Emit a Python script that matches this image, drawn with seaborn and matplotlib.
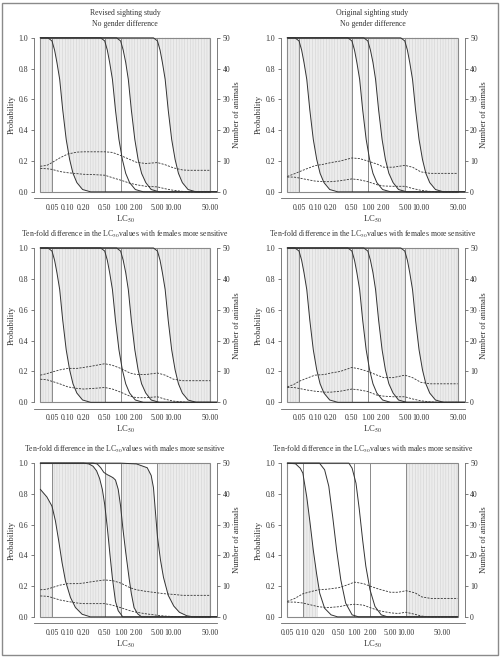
import numpy as np
import matplotlib
matplotlib.use('Agg')
import matplotlib.pyplot as plt
import seaborn as sns
from matplotlib.patches import Polygon, Rectangle

# ---------------- data ----------------
top_titles = ["Revised sighting study", "Original sighting study"]
sub_titles = ["No gender difference", "No gender difference",
              "Ten-fold difference in the LC$_{50}$values with females more sensitive",
              "Ten-fold difference in the LC$_{50}$values with females more sensitive",
              "Ten-fold difference in the LC$_{50}$values with males more sensitive",
              "Ten-fold difference in the LC$_{50}$values with males more sensitive"]

x_range = [(0.03, 50)] * 5 + [(0.05, 100)]
cut_points = [[0.05, 0.5, 1, 5]] * 5 + [[0.1, 1, 2, 10]]

tick_vals = [0.05, 0.1, 0.2, 0.5, 1, 2, 5, 10, 20, 50]
tick_labs = ["0.05", "0.10", "0.20", "0.50", "1.00", "2.00", "5.00", "10.00", "", "50.00"]

c1_x = [0.03, 0.042, 0.05, 0.056, 0.062, 0.07, 0.08, 0.093, 0.108, 0.125, 0.148, 0.19, 0.27, 100]
c1_y = [1, 1, 0.98, 0.92, 0.84, 0.73, 0.53, 0.34, 0.21, 0.12, 0.06, 0.015, 0, 0]
c2_x = [0.03, 0.42, 0.5, 0.56, 0.62, 0.7, 0.8, 0.93, 1.08, 1.25, 1.48, 1.9, 2.7, 100]
c2_y = [1, 1, 0.98, 0.92, 0.84, 0.73, 0.53, 0.34, 0.21, 0.12, 0.06, 0.015, 0, 0]
c3_x = [0.03, 0.84, 1.0, 1.12, 1.25, 1.4, 1.6, 1.86, 2.15, 2.5, 3.0, 3.8, 5.4, 100]
c3_y = [1, 1, 0.98, 0.92, 0.84, 0.73, 0.53, 0.34, 0.21, 0.12, 0.06, 0.015, 0, 0]
c4_x = [0.03, 4.2, 5.0, 5.6, 6.2, 7.0, 8.0, 9.3, 10.8, 12.5, 14.8, 19, 27, 100]
c4_y = [1, 1, 0.98, 0.92, 0.84, 0.73, 0.53, 0.34, 0.21, 0.12, 0.06, 0.015, 0, 0]

# panel 5 (males more sensitive, revised)
m1_x = [0.03, 0.04, 0.05, 0.058, 0.067, 0.0775, 0.09, 0.112, 0.139, 0.186, 0.267, 100]
m1_y = [0.83, 0.78, 0.72, 0.625, 0.495, 0.354, 0.234, 0.126, 0.061, 0.017, 0, 0]
m2_x = [0.03, 0.2, 0.25, 0.3, 0.35, 0.4, 0.45, 0.5, 0.56, 0.63, 0.7, 0.8, 0.9, 1.1, 100]
m2_y = [1, 1, 0.995, 0.98, 0.95, 0.9, 0.83, 0.73, 0.58, 0.4, 0.25, 0.1, 0.04, 0, 0]
m3_x = [0.03, 0.3, 0.36, 0.42, 0.48, 0.56, 0.64, 0.72, 0.8, 0.9, 1.0, 1.1, 1.25, 1.45,
        1.6, 1.8, 2.1, 2.5, 100]
m3_y = [1, 1, 0.995, 0.97, 0.94, 0.925, 0.915, 0.905, 0.89, 0.83, 0.72, 0.58, 0.42, 0.25,
        0.15, 0.06, 0.02, 0, 0]
m4_x = [0.03, 1.0, 2.0, 3.2, 3.8, 4.2, 5.0, 5.7, 6.5, 8.0, 10.2, 13, 18, 24, 100]
m4_y = [1, 1, 0.995, 0.97, 0.92, 0.84, 0.52, 0.37, 0.257, 0.14, 0.07, 0.03, 0.007, 0, 0]

# panel 6 (males more sensitive, original)
o1_x = [0.05, 0.072, 0.089, 0.1, 0.119, 0.138, 0.159, 0.184, 0.212, 0.264, 0.352, 0.47, 100]
o1_y = [1, 0.996, 0.967, 0.935, 0.78, 0.61, 0.436, 0.284, 0.154, 0.056, 0.013, 0, 0]
o2_x = [0.05, 0.21, 0.264, 0.318, 0.379, 0.451, 0.544, 0.676, 0.9, 1.2, 100]
o2_y = [1, 1, 0.957, 0.85, 0.65, 0.436, 0.24, 0.089, 0.013, 0, 0]
o3_x = [0.05, 0.78, 0.9, 1.07, 1.24, 1.44, 1.66, 2.0, 2.5, 3.3, 4.4, 100]
o3_y = [1, 1, 0.967, 0.87, 0.7, 0.5, 0.33, 0.176, 0.067, 0.013, 0, 0]

# number of animals (dashed), right axis
n_x = [0.03, 0.04, 0.05, 0.07, 0.1, 0.15, 0.2, 0.3, 0.5, 0.7, 1.0, 1.5, 2, 3, 5, 7, 10, 15, 20, 50]
n6_x = [0.05, 0.07, 0.1, 0.15, 0.2, 0.3, 0.5, 0.7, 1, 1.5, 2, 3, 5, 7, 10, 15, 20, 30, 50, 100]
p1_hi = [8.3, 8.6, 9.5, 11, 12.3, 12.9, 13, 13, 13, 12.8, 11.8, 10.5, 9.6, 9.2, 9.5, 8.8, 7.8, 7.1, 7, 7]
p1_lo = [7.6, 7.5, 7.3, 6.6, 6.2, 5.9, 5.7, 5.6, 5.4, 4.6, 3.8, 2.8, 2.3, 1.8, 1.6, 1.0, 0.5, 0.15, 0, 0]
p2_hi = [5, 5.8, 6.5, 7.5, 8.5, 9, 9.5, 10, 11, 10.8, 10, 9, 8, 8, 8.6, 8, 6.5, 6, 6, 6]
p2_lo = [4.8, 4.8, 4.5, 4, 3.5, 3.3, 3.3, 3.6, 4.2, 3.9, 3.3, 2.3, 1.9, 1.8, 1.8, 1.1, 0.5, 0.15, 0, 0]
p3_hi = [8.8, 9.3, 9.8, 10.5, 11, 11, 11.3, 11.8, 12.5, 12, 11, 9.5, 9, 9, 9.5, 8.8, 7.5, 7, 7, 7]
p3_lo = [7.5, 7.3, 6.8, 6, 5, 4.5, 4.3, 4.5, 4.8, 4.3, 3.3, 2, 1.5, 1.5, 1.8, 1, 0.4, 0.1, 0, 0]
p4_hi = [5, 5.8, 6.8, 7.8, 8.8, 9, 9.5, 10, 11.3, 10.8, 10, 8.8, 8, 8, 8.8, 8, 6.5, 6, 6, 6]
p4_lo = [4.8, 4.8, 4.5, 4, 3.6, 3.3, 3.3, 3.6, 4.3, 4, 3.5, 2.3, 2, 1.8, 1.8, 1.1, 0.5, 0.15, 0, 0]
p5_hi = [8.8, 9, 9.5, 10.3, 10.8, 10.8, 11, 11.5, 12, 11.8, 11, 9.5, 8.8, 8.3, 7.8, 7.5, 7.3, 7, 7, 7]
p5_lo = [6.8, 6.7, 6.3, 5.5, 5, 4.5, 4.3, 4.3, 4.3, 3.8, 3, 2, 1.5, 1, 0.5, 0.25, 0.1, 0, 0, 0]
p6_hi = [5, 6, 7.5, 8.3, 8.8, 9, 9.5, 10.3, 11.3, 10.8, 10, 9, 8, 8, 8.5, 7.8, 6.5, 6, 6, 6]
p6_lo = [4.8, 4.8, 4.5, 3.8, 3.3, 3, 3.3, 3.8, 4.1, 3.8, 3, 2, 1.3, 1.1, 1.5, 0.8, 0.25, 0, 0, 0]

# ---------------- style ----------------
sns.set_theme(style='white')
plt.rcParams['font.family'] = ['Liberation Serif', 'DejaVu Serif']
plt.rcParams['mathtext.fontset'] = 'stix'
plt.rcParams['hatch.linewidth'] = 0.4
FS = 5.6
INK = '#333333'
AXC = '#666666'

fig = plt.figure(figsize=(5.0, 6.57), dpi=100)
W, H = 500, 657


def add_axes(l, r, t, b):
    return fig.add_axes([l / W, 1 - b / H, (r - l) / W, (b - t) / H])


cols = [(33.5, 217), (280.5, 464.5)]
rows = [(31.7, 198), (241.8, 408.5), (457, 623)]

curves = [
    [(c1_x, c1_y), (c2_x, c2_y), (c3_x, c3_y), (c4_x, c4_y)],
] * 4 + [
    [(m1_x, m1_y), (m2_x, m2_y), (m3_x, m3_y), (m4_x, m4_y)],
    [(o1_x, o1_y), (o2_x, o2_y), (o3_x, o3_y)],
]
animals = [(n_x, p1_hi, p1_lo), (n_x, p2_hi, p2_lo), (n_x, p3_hi, p3_lo),
           (n_x, p4_hi, p4_lo), (n_x, p5_hi, p5_lo), (n6_x, p6_hi, p6_lo)]


def shade(ax, lower, upper, x0, x1):
    lx, ly = lower
    ux, uy = upper
    pts = list(zip(lx, ly)) + list(zip(ux[::-1], uy[::-1]))
    poly = Polygon(pts, closed=True, facecolor='#ececec', edgecolor='#d2d2d2',
                   hatch='||||||', lw=0, zorder=1)
    ax.add_patch(poly)
    poly.set_clip_path(Rectangle((x0, -0.1), x1 - x0, 1.2, transform=ax.transData))


for i in range(6):
    r, c = divmod(i, 2)
    ax = add_axes(cols[c][0], cols[c][1], rows[r][0], rows[r][1])
    xmin, xmax = x_range[i]
    lo, hi = np.log10(xmin), np.log10(xmax)
    pad = 0.04 * (hi - lo)
    ax.set_xscale('log')
    ax.set_xlim(10 ** (lo - pad), 10 ** (hi + pad))
    ax.set_ylim(-0.04, 1.04)

    bottom = ([xmin, xmax], [0, 0])
    top = ([xmin, xmax], [1, 1])
    cv = curves[i]
    edges = [xmin] + cut_points[i] + [xmax]
    if i < 5:
        bands = [bottom] + cv + [top]
        for k in range(5):
            shade(ax, bands[k], bands[k + 1], edges[k], edges[k + 1])
    else:
        shade(ax, bottom, cv[0], 0.1, 0.2)
        shade(ax, bottom, top, 10, xmax)

    ax.add_patch(Rectangle((xmin, 0), xmax - xmin, 1, fill=False,
                           edgecolor='#8a8a8a', lw=0.8, zorder=2))
    ax.vlines(cut_points[i], 0, 1, color='#8a8a8a', lw=0.7, zorder=2)

    for cx, cy in cv:
        sns.lineplot(x=cx, y=cy, ax=ax, color=INK, lw=0.7, sort=False,
                     estimator=None, zorder=4)

    ax2 = ax.twinx()
    ax2.set_ylim(-2, 52)
    nx, nhi, nlo = animals[i]
    sns.lineplot(x=nx, y=nhi, ax=ax2, color=INK, lw=0.6, ls=(0, (2.5, 1.5)),
                 sort=False, estimator=None)
    sns.lineplot(x=nx, y=nlo, ax=ax2, color=INK, lw=0.6, ls=(0, (2.5, 1.5)),
                 sort=False, estimator=None)

    tv = [t for t in tick_vals if xmin <= t <= xmax]
    ax.set_xticks(tv)
    ax.set_xticklabels([tick_labs[tick_vals.index(t)] for t in tv])
    ax.xaxis.set_minor_locator(matplotlib.ticker.NullLocator())
    ax.set_yticks([0, 0.2, 0.4, 0.6, 0.8, 1.0])
    ax.set_yticklabels(["0.0", "0.2", "0.4", "0.6", "0.8", "1.0"])
    ax2.set_yticks([0, 10, 20, 30, 40, 50])
    ax2.set_yticklabels(["0", "10", "20", "30", "40", "50"])

    for a in (ax, ax2):
        for s in a.spines.values():
            s.set_visible(False)
        a.tick_params(axis='both', labelsize=FS, colors=INK, length=2.5,
                      width=0.6, pad=1.5, direction='out')
        a.tick_params(axis='both', color=AXC)
    ax.spines['left'].set_visible(True)
    ax.spines['left'].set_bounds(0, 1)
    ax.spines['bottom'].set_visible(True)
    ax2.spines['right'].set_visible(True)
    ax2.spines['right'].set_bounds(0, 50)
    for s in (ax.spines['left'], ax.spines['bottom'], ax2.spines['right']):
        s.set_color(AXC)
        s.set_linewidth(0.6)

    ax.set_ylabel("Probability", fontsize=FS + 0.6, color=INK, labelpad=2)
    ax2.set_ylabel("Number of animals", fontsize=FS + 0.6, color=INK, labelpad=2)
    ax.set_xlabel("LC$_{50}$", fontsize=FS + 0.6, color=INK, labelpad=1.5)
    ax.grid(False)
    ax2.grid(False)

    tx = (cols[c][0] + cols[c][1]) / 2 / W
    if r == 0:
        fig.text(tx, 1 - 13 / H, top_titles[c], ha='center', va='center',
                 fontsize=FS, color=INK)
        fig.text(tx, 1 - 24 / H, sub_titles[i], ha='center', va='center',
                 fontsize=FS, color=INK)
    else:
        fig.text(tx, 1 - (rows[r][0] - 7.5) / H, sub_titles[i], ha='center',
                 va='center', fontsize=FS, color=INK)

fig.add_artist(Rectangle((1.5 / W, 2 / H), (W - 4) / W, (H - 5) / H,
                         transform=fig.transFigure, fill=False,
                         edgecolor='#8a8a8a', lw=1.0))

fig.savefig('out.png', dpi=100)
